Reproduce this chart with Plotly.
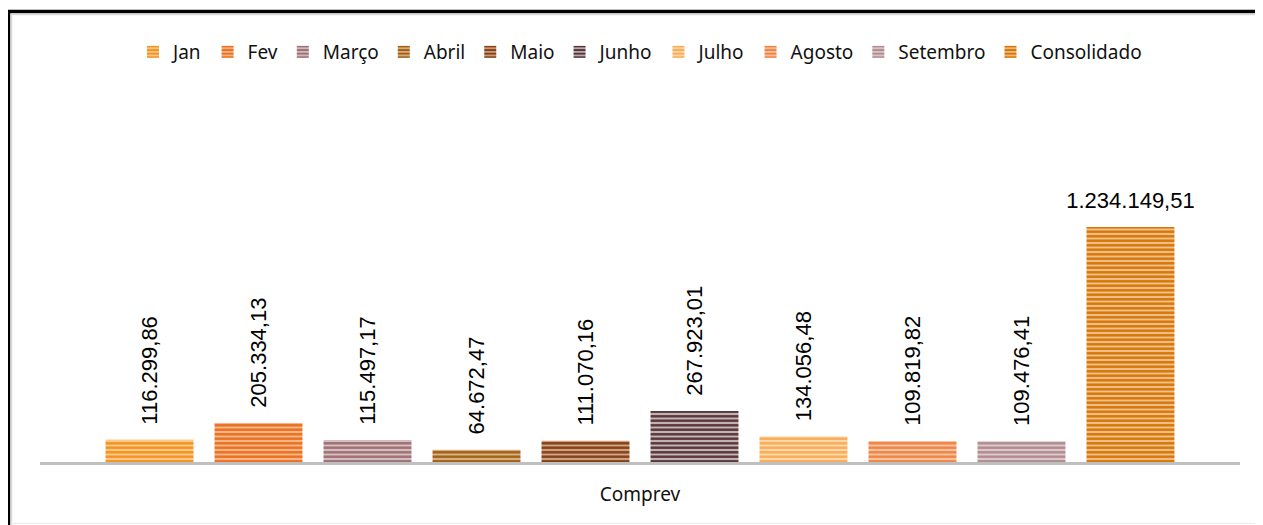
import plotly.graph_objects as go

category = ["Comprev"]
series_names = ["Jan", "Fev", "Março", "Abril", "Maio", "Junho", "Julho", "Agosto", "Setembro", "Consolidado"]
values = [116299.86, 205334.13, 115497.17, 64672.47, 111070.16, 267923.01, 134056.48, 109819.82, 109476.41, 1234149.51]
labels = ["116.299,86", "205.334,13", "115.497,17", "64.672,47", "111.070,16", "267.923,01",
          "134.056,48", "109.819,82", "109.476,41", "1.234.149,51"]
colors = ["#F3921E", "#EB6F1C", "#9C6F73", "#A35E12", "#853F14", "#553438",
          "#F9AC55", "#EE8444", "#B08B90", "#D67506"]
tints = ["#FBCB8E", "#F6B98E", "#D8C0C2", "#D8B48A", "#CFA58A", "#C8B6B8",
         "#FDD9AE", "#F8C4A2", "#DDCACC", "#F0C18A"]

fig = go.Figure()
for i, name in enumerate(series_names):
    last = name == "Consolidado"
    if last:
        txt = "<span style='font-size:22px'>" + labels[i] + "</span><br>\u00a0"
        tsize = 11
    else:
        txt = "\u00a0\u00a0" + labels[i]
        tsize = 22
    fig.add_trace(go.Bar(
        name=name, x=category, y=[values[i]],
        marker=dict(color=colors[i], line=dict(width=0),
                    pattern=dict(shape="-", fgcolor=colors[i], bgcolor=tints[i],
                                 size=4.5, solidity=0.55, fillmode="replace")),
        text=[txt], textposition="outside", textangle=0 if last else -90,
        constraintext="none", cliponaxis=False,
        textfont=dict(family="Liberation Sans, Arial", size=tsize, color="#000000"),
        hoverinfo="skip",
    ))

# page offset of the figure inside the browser window
OFF = 8
FW, FH = 1263 - OFF, 525 - OFF
L, R, T, B = 40 - OFF, 23, 90 - OFF, 63
H = FH - T - B
W = FW - L - R
def px(x):
    return (x - OFF - L) / W
def py(y):
    return (FH - B - (y - OFF)) / H

fig.update_layout(
    width=FW, height=FH,
    margin=dict(l=L, r=R, t=T, b=B),
    paper_bgcolor="white", plot_bgcolor="white",
    barmode="group", bargap=0.0917, bargroupgap=0.193,
    showlegend=True,
    legend=dict(orientation="h", x=0.5, xanchor="center", y=py(52), yanchor="middle",
                font=dict(family="Noto Sans", size=19, color="#111111"),
                itemwidth=30, traceorder="normal"),
    xaxis=dict(showline=True, linecolor="#BFBFBF", linewidth=3, showgrid=False,
               ticks="outside", ticklen=13, tickcolor="rgba(0,0,0,0)",
               tickfont=dict(family="Noto Sans", size=19, color="#111111")),
    yaxis=dict(range=[0, 1953700], visible=False, showgrid=False, zeroline=False),
    shapes=[
        dict(type="path", xref="paper", yref="paper",
             path=f"M {px(8.5)} {py(526)} L {px(8.5)} {py(11.5)} L {px(1264)} {py(11.5)}",
             line=dict(color="#000000", width=3.5)),
        dict(type="path", xref="paper", yref="paper",
             path=f"M {px(11.5)} {py(526)} L {px(11.5)} {py(14.5)} L {px(1264)} {py(14.5)}",
             line=dict(color="#D9D9D9", width=1.5)),
        dict(type="line", xref="paper", yref="paper",
             x0=px(11), x1=px(1264), y0=py(523.5), y1=py(523.5),
             line=dict(color="#EEEEEE", width=1.5)),
    ],
)

fig.write_html("out.html")
